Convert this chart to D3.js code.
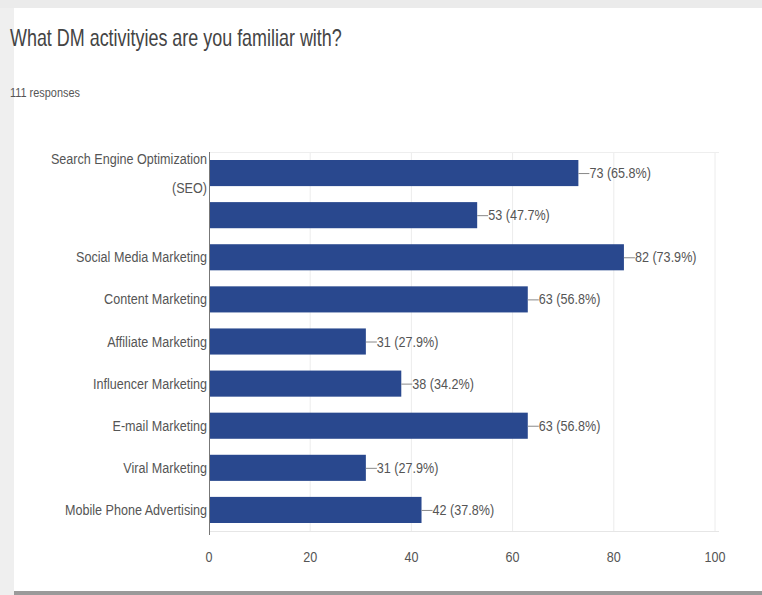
<!DOCTYPE html>
<html>
<head>
<meta charset="utf-8">
<script src="https://cdn.jsdelivr.net/npm/d3@7"></script>
<style>
  html, body { margin: 0; padding: 0; background: #fff; }
  svg { display: block; }
  text { font-family: "Liberation Sans", Arial, sans-serif; }
</style>
</head>
<body>
<svg id="chart" width="762" height="595"></svg>
<script>
// Survey question and response count
const title = "What DM activityies are you familiar with?";
const subtitle = "111 responses";

// One entry per answer option; each label is a list of wrapped lines
const categoryLines = [
  ["Search Engine Optimization", "(SEO)"],
  [""],
  ["Social Media Marketing"],
  ["Content Marketing"],
  ["Affiliate Marketing"],
  ["Influencer Marketing"],
  ["E-mail Marketing"],
  ["Viral Marketing"],
  ["Mobile Phone Advertising"]
];
const counts = [73, 53, 82, 63, 31, 38, 63, 31, 42];
const percents = ["65.8%", "47.7%", "73.9%", "56.8%", "27.9%", "34.2%", "56.8%", "27.9%", "37.8%"];
const xTicks = [0, 20, 40, 60, 80, 100];

const W = 762, H = 595;
const squeeze = 0.84;           // narrow glyph rendering
const barColor = "#29488e";
const textColor = "#555";

const svg = d3.select("#chart");

// page chrome: grey strip along the top, left edge and bottom rule
svg.append("rect").attr("x", 0).attr("y", 0).attr("width", W).attr("height", H).attr("fill", "#fff");
svg.append("rect").attr("x", 0).attr("y", 0).attr("width", W).attr("height", 8).attr("fill", "#ebebeb");
svg.append("rect").attr("x", 0).attr("y", 8).attr("width", 14).attr("height", H - 8).attr("fill", "#efefef");
svg.append("rect").attr("x", 14).attr("y", 591).attr("width", W - 14).attr("height", 4).attr("fill", "#9a9a9a");

// helper: condensed text placed at (x, y)
function ctext(sel, x, y, str, size, color, anchor, sx) {
  return sel.append("text")
    .attr("transform", `translate(${x},${y}) scale(${sx || squeeze},1)`)
    .attr("font-size", size)
    .attr("fill", color)
    .attr("text-anchor", anchor || "start")
    .text(str);
}

ctext(svg, 10, 46, title, 23, "#444", "start", 0.78);
ctext(svg, 10, 97, subtitle, 13, textColor);

const margin = { left: 209, right: 47, top: 152, bottom: 64 };
const x = d3.scaleLinear().domain([0, 100]).range([margin.left, W - margin.right]);
const y = d3.scaleBand()
  .domain(d3.range(counts.length))
  .range([margin.top, H - margin.bottom])
  .paddingInner(0.38)
  .paddingOuter(0.19);

const plotTop = margin.top, plotBottom = H - margin.bottom;

// frame and vertical gridlines
const grid = svg.append("g");
grid.selectAll("line.v").data(xTicks.slice(1)).join("line")
  .attr("x1", d => x(d)).attr("x2", d => x(d))
  .attr("y1", plotTop).attr("y2", plotBottom)
  .attr("stroke", "#ececec").attr("stroke-width", 1);
grid.append("line")
  .attr("x1", x(0)).attr("x2", x(100) + 4)
  .attr("y1", plotTop + 0.5).attr("y2", plotTop + 0.5)
  .attr("stroke", "#eeeeee");
grid.append("line")
  .attr("x1", x(0)).attr("x2", x(100) + 4)
  .attr("y1", plotBottom + 0.5).attr("y2", plotBottom + 0.5)
  .attr("stroke", "#e6e6e6");

// bars
svg.append("g").selectAll("rect").data(counts).join("rect")
  .attr("x", x(0))
  .attr("y", (d, i) => y(i))
  .attr("width", d => x(d) - x(0))
  .attr("height", y.bandwidth())
  .attr("fill", barColor);

// baseline axis
svg.append("line")
  .attr("x1", x(0) + 0.5).attr("x2", x(0) + 0.5)
  .attr("y1", plotTop).attr("y2", plotBottom + 4)
  .attr("stroke", "#777").attr("stroke-width", 1);

// value labels with short leader lines
const vl = svg.append("g");
counts.forEach((v, i) => {
  const cy = y(i) + y.bandwidth() / 2;
  vl.append("line")
    .attr("x1", x(v)).attr("x2", x(v) + 11)
    .attr("y1", cy + 0.5).attr("y2", cy + 0.5)
    .attr("stroke", "#888");
  ctext(vl, x(v) + 11, cy + 5, `${v} (${percents[i]})`, 15, textColor);
});

// category labels, right aligned against the axis
const cl = svg.append("g");
categoryLines.forEach((lines, i) => {
  const cy = y(i) + y.bandwidth() / 2;
  const lh = 29;
  const start = cy + 5 - (lines.length - 1) * lh / 2;
  lines.forEach((ln, k) => {
    ctext(cl, x(0) - 2, start + k * lh, ln, 15, textColor, "end");
  });
});

// x tick labels
const xl = svg.append("g");
xTicks.forEach(t => {
  ctext(xl, x(t), 562, String(t), 15, textColor, "middle");
});
</script>
</body>
</html>
